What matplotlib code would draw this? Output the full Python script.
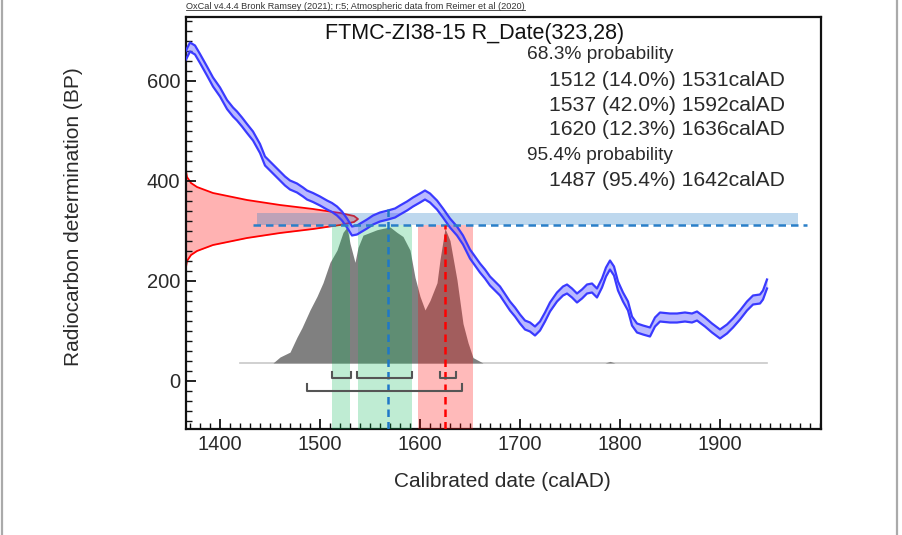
import numpy as np
import matplotlib
matplotlib.use("Agg")
import matplotlib.pyplot as plt
from matplotlib.lines import Line2D

plt.rcParams['font.family'] = ['Liberation Sans', 'DejaVu Sans']

# calibration curve (calAD, BP)
curve_year = [1366, 1370, 1375, 1380, 1387, 1393, 1400, 1407, 1413, 1417, 1422, 1427,
              1433, 1440, 1445, 1450, 1455, 1460, 1465, 1470, 1477, 1483, 1487, 1493,
              1500, 1507, 1512, 1517, 1522, 1527, 1532, 1537, 1542, 1547, 1553, 1560,
              1568, 1575, 1580, 1587, 1593, 1600, 1605, 1610, 1617, 1623, 1630, 1637,
              1643, 1650, 1655, 1660, 1665, 1670, 1675, 1680, 1685, 1690, 1695, 1700,
              1705, 1710, 1715, 1720, 1725, 1730, 1737, 1743, 1747, 1752, 1757, 1762,
              1767, 1772, 1777, 1782, 1786, 1790, 1794, 1798, 1803, 1808, 1812, 1817,
              1823, 1830, 1835, 1840, 1850, 1857, 1865, 1872, 1877, 1885, 1892, 1900,
              1907, 1913, 1920, 1927, 1933, 1940, 1943, 1947]
curve_bp = [652, 668, 662, 645, 620, 598, 578, 553, 538, 530, 518, 505,
            490, 465, 440, 430, 420, 410, 400, 392, 386, 378, 372, 367,
            360, 352, 347, 340, 330, 316, 300, 302, 308, 314, 322, 328,
            332, 336, 342, 350, 358, 366, 372, 366, 352, 336, 316, 300,
            282, 254, 240, 226, 214, 200, 190, 180, 165, 150, 138, 124,
            112, 108, 100, 110, 128, 148, 168, 180, 184, 176, 166, 174,
            184, 186, 176, 196, 218, 232, 220, 190, 168, 150, 120, 106,
            102, 98, 118, 128, 126, 126, 128, 126, 130, 118, 106, 94,
            104, 116, 132, 150, 162, 164, 172, 194]
curve_sigma = 9

# radiocarbon likelihood R_Date(323,28): BP level and extent in years from the axis
like_bp = [420, 408, 396, 388, 376, 362, 352, 344, 336, 330, 324,
           318, 312, 304, 296, 286, 272, 260, 252, 240, 228]
like_w = [0, 1, 5, 11, 27, 61, 94, 127, 154, 168, 172,
          168, 154, 127, 94, 61, 27, 11, 5, 1, 0]

# calibrated posterior (relative probability)
post_year = [1420, 1453, 1460, 1470, 1477, 1482, 1490, 1497, 1503, 1510, 1517, 1523,
             1527, 1530, 1535, 1538, 1543, 1550, 1557, 1563, 1570, 1577, 1583, 1590,
             1595, 1600, 1605, 1610, 1617, 1620, 1625, 1630, 1637, 1643, 1648, 1653,
             1663, 1785, 1790, 1795, 1947]
post_p = [0, 0, 0.044, 0.08, 0.19, 0.26, 0.39, 0.49, 0.59, 0.74, 0.83, 0.96,
          1.0, 0.88, 0.74, 0.85, 0.94, 0.96, 0.98, 0.99, 1.0, 0.96, 0.93, 0.83,
          0.63, 0.49, 0.39, 0.46, 0.59, 0.76, 0.99, 0.90, 0.61, 0.29, 0.15, 0.04,
          0, 0, 0.012, 0, 0]
post_base = 36
post_height = 272

range68 = [(1512, 1531), (1537, 1592), (1620, 1636)]
range95 = [(1487, 1642)]
green_bands = [(1512, 1530), (1538, 1592)]
red_band = (1598, 1653)
median_year = 1568
mode_year = 1625
hband = (1437, 1978, 312, 336)
hline = (1433, 1987, 312)

title = "FTMC-ZI38-15 R_Date(323,28)"
prob_lines = ["68.3% probability",
              "1512 (14.0%) 1531calAD",
              "1537 (42.0%) 1592calAD",
              "1620 (12.3%) 1636calAD",
              "95.4% probability",
              "1487 (95.4%) 1642calAD"]
header = "OxCal v4.4.4 Bronk Ramsey (2021); r:5; Atmospheric data from Reimer et al (2020)"

txt = '#2a2a2a'
fig = plt.figure(figsize=(9.02, 5.35), dpi=100)
ax = fig.add_axes([186 / 902, 1 - 429 / 535, 635 / 902, 412 / 535])
x0 = 1366
ax.set_xlim(x0, 2001)
ax.set_ylim(-96, 728)

# likelihood on the y axis
lw_years = [x0 + w for w in like_w]
ax.fill_betweenx(like_bp, x0, lw_years, color='red', alpha=0.3, lw=0, zorder=1)
ax.plot(lw_years, like_bp, color='red', lw=1.3, zorder=1.5)

# horizontal band and dashed line
ax.fill_between([hband[0], hband[1]], hband[2], hband[3], color='#2a7fc8', alpha=0.3, lw=0, zorder=2)
ax.plot([hline[0], hline[1]], [hline[2], hline[2]], color='#2a7fc8', lw=1.8,
        ls=(0, (3, 2)), zorder=6)

# posterior
post_y = post_base + np.array(post_p) * post_height
ax.plot([post_year[0], post_year[-1]], [post_base, post_base], color='#c8c8c8', lw=1.2, zorder=2)
ax.fill_between(post_year, post_base, post_y, color='#808080', lw=0, zorder=2.5)

# highlighted ranges
for a, b in green_bands:
    ax.fill_between([a, b], -96, hline[2], color='#00b450', alpha=0.25, lw=0, zorder=3)
ax.fill_between(list(red_band), -96, hline[2], color='red', alpha=0.27, lw=0, zorder=3)

# calibration curve
cy = np.array(curve_bp)
ax.fill_between(curve_year, cy - curve_sigma, cy + curve_sigma, color='#5050ff', alpha=0.4, lw=0, zorder=4)
ax.plot(curve_year, cy - curve_sigma, color='#3a3aff', lw=1.6, zorder=4)
ax.plot(curve_year, cy + curve_sigma, color='#3a3aff', lw=1.6, zorder=4)

# median / mode lines
ax.plot([median_year, median_year], [-96, 348], color='#1f78c8', lw=1.8, ls=(0, (3, 2)), zorder=6)
ax.plot([mode_year, mode_year], [-96, 312], color='red', lw=1.8, ls=(0, (3, 2)), zorder=6)

# range brackets
for a, b in range68:
    ax.plot([a, a, b, b], [18, 6, 6, 18], color='#555555', lw=1.5, zorder=6)
for a, b in range95:
    ax.plot([a, a, b, b], [-6, -20, -20, -6], color='#555555', lw=1.5, zorder=6)

# axes styling
for s in ax.spines.values():
    s.set_linewidth(1.6)
    s.set_color('#111111')
ax.set_xticks([1400, 1500, 1600, 1700, 1800, 1900])
ax.set_xticks(np.arange(1370, 2001, 10), minor=True)
ax.set_yticks([0, 200, 400, 600])
ax.set_yticks(np.arange(-80, 721, 20), minor=True)
ax.tick_params(direction='in', length=7, width=1.3, labelsize=14.5, colors='#111111',
               labelcolor=txt, pad=4)
ax.tick_params(which='minor', direction='in', length=4, width=1.0, colors='#111111')
ax.tick_params(right=False, top=False)
ax.tick_params(which='minor', right=False, top=False)

ax.set_xlabel("Calibrated date (calAD)", fontsize=15, color=txt)
ax.set_ylabel("Radiocarbon determination (BP)", fontsize=15, color=txt)
ax.xaxis.set_label_coords(0.499, -0.105)
ax.yaxis.set_label_coords(-0.162, 0.515)

ax.text(0.454, 0.959, title, transform=ax.transAxes, ha='center', va='center',
        fontsize=15.5, color='#111111')
yfr = [0.908, 0.847, 0.786, 0.726, 0.663, 0.602]
for s, yf in zip(prob_lines, yfr):
    if 'probability' in s:
        ax.text((527 - 186) / 635, yf, s, transform=ax.transAxes, ha='left', va='center',
                fontsize=13.8, color=txt)
    else:
        ax.text((785 - 186) / 635, yf, s, transform=ax.transAxes, ha='right', va='center',
                fontsize=15.2, color=txt)

# header with underline
h = fig.text(186 / 902, 1 - 6.5 / 535, header, fontsize=6.6, color='#333333', va='center')
fig.canvas.draw()
bb = h.get_window_extent().transformed(fig.transFigure.inverted())
fig.add_artist(Line2D([bb.x0, bb.x1], [bb.y0 + 0.001, bb.y0 + 0.001], color='#333333', lw=0.6))

# page borders of the screenshot
fig.add_artist(Line2D([2 / 902, 2 / 902], [0, 1], color='#aaaaaa', lw=1.6))
fig.add_artist(Line2D([897 / 902, 897 / 902], [0, 1], color='#aaaaaa', lw=1.6))

fig.savefig("out.png", dpi=100)
